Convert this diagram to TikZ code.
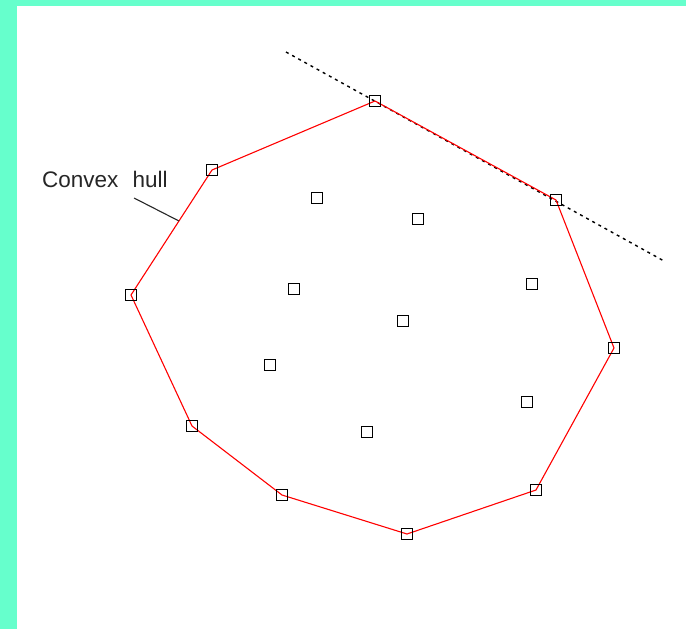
\documentclass[tikz,border=0pt]{standalone}
\usepackage{fontspec}
\setmainfont{Liberation Sans}
\definecolor{frame}{HTML}{66FFCC}
\begin{document}
\begin{tikzpicture}[x=1pt,y=-1pt,
  pt/.style={draw=black,line width=1.3pt,minimum size=11pt,inner sep=0pt,outer sep=0pt,shape=rectangle},
  hull/.style={draw=red,line width=1.1pt},
  tangent/.style={draw=black,line width=1.4pt,dash pattern=on 3pt off 4pt},
  lbl/.style={font=\fontsize{22.5}{26}\selectfont,text=black!85,inner sep=0pt,anchor=west}]
\useasboundingbox (0,0) rectangle (686,629);
\fill[frame] (0,0) rectangle (686,6);
\fill[frame] (0,0) rectangle (17,629);
% hull vertices
\coordinate (h1) at (375,101);
\coordinate (h2) at (556,200);
\coordinate (h3) at (614,348);
\coordinate (h4) at (536,490);
\coordinate (h5) at (407,534);
\coordinate (h6) at (282,495);
\coordinate (h7) at (192,426);
\coordinate (h8) at (131,295);
\coordinate (h9) at (212,170);
\coordinate (t1) at (286,52);
\coordinate (t2) at (664,261);
\draw[tangent] (t1) -- (t2);
\draw[hull] (h1) -- (h2) -- (h3) -- (h4) -- (h5) -- (h6) -- (h7) -- (h8) -- (h9) -- cycle;
\foreach \c in {h1,h2,h3,h4,h5,h6,h7,h8,h9} \node[pt] at (\c) {};
% interior points
\foreach \p [count=\i] in {(317,198),(418,219),(294,289),(532,284),(403,321),(270,365),(527,402),(367,432)}
  \node[pt] (p\i) at \p {};
\node[lbl] (label) at (42,179) {Convex\hspace{0.35em} hull};
\coordinate (lead1) at (134,198);
\coordinate (lead2) at (179,221);
\draw[black!85,line width=1.1pt] (lead1) -- (lead2);
\end{tikzpicture}
\end{document}
